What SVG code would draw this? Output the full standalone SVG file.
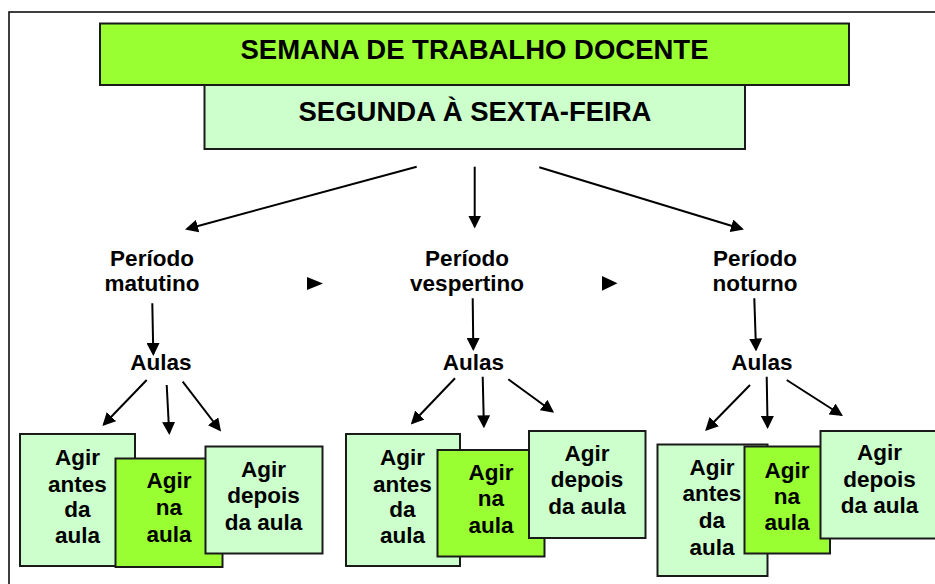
<svg xmlns="http://www.w3.org/2000/svg" width="935" height="584" viewBox="0 0 935 584">
<defs>
<style>
.frame{fill:none;stroke:#000;stroke-width:1.5}
.dark{fill:#99FF33;stroke:#1a1a1a;stroke-width:2}
.light{fill:#CCFFCC;stroke:#1a1a1a;stroke-width:2}
.t{font-family:"Liberation Sans",Arial,sans-serif;font-weight:bold;font-size:22.5px;fill:#000;text-anchor:middle}
.title{font-family:"Liberation Sans",Arial,sans-serif;font-weight:bold;font-size:27.5px;fill:#000;text-anchor:middle}
.c{stroke:#000;stroke-width:2;fill:none;marker-end:url(#ah)}
</style>
<marker id="ah" viewBox="0 0 13 13" refX="11" refY="6.5" markerWidth="13" markerHeight="13" orient="auto" markerUnits="userSpaceOnUse">
<path d="M0,0 L13,6.5 L0,13 z" fill="#000"/>
</marker>
</defs>
<rect width="935" height="584" fill="#fff"/>
<rect class="frame" x="9" y="12" width="940" height="600"/>

<g id="semana">
<rect class="dark" x="100" y="23.5" width="749" height="61.5"/>
<text class="title" x="474.5" y="59.3">SEMANA DE TRABALHO DOCENTE</text>
</g>
<g id="segunda">
<rect class="light" x="204.5" y="85" width="540.5" height="64"/>
<text class="title" x="475" y="121">SEGUNDA À SEXTA-FEIRA</text>
</g>

<g id="periodo-matutino">
<text class="t" x="152" y="266"><tspan x="152">Período</tspan><tspan x="152" y="290.5">matutino</tspan></text>
</g>
<g id="periodo-vespertino">
<text class="t" x="467" y="266"><tspan x="467">Período</tspan><tspan x="467" y="290.5">vespertino</tspan></text>
</g>
<g id="periodo-noturno">
<text class="t" x="755" y="266"><tspan x="755">Período</tspan><tspan x="755" y="290.5">noturno</tspan></text>
</g>

<g id="seq-arrows">
<polygon points="307,277 323,283.5 307,290" fill="#000"/>
<polygon points="602,276 617.5,283.3 602,290.7" fill="#000"/>
</g>

<g id="aulas-1"><text class="t" x="161" y="370">Aulas</text></g>
<g id="aulas-2"><text class="t" x="473.5" y="370">Aulas</text></g>
<g id="aulas-3"><text class="t" x="762" y="370">Aulas</text></g>

<g id="l-antes">
<rect class="light" x="20" y="434" width="115" height="132"/>
<text class="t"><tspan x="77.5" y="465">Agir</tspan><tspan x="77.5" y="491.5">antes</tspan><tspan x="77.5" y="517">da</tspan><tspan x="77.5" y="543">aula</tspan></text>
</g>
<g id="l-na">
<rect class="dark" x="115.5" y="458.5" width="107" height="108.5"/>
<text class="t"><tspan x="169" y="488">Agir</tspan><tspan x="169" y="515">na</tspan><tspan x="169" y="541.5">aula</tspan></text>
</g>
<g id="l-depois">
<rect class="light" x="205.5" y="446.5" width="117" height="107"/>
<text class="t"><tspan x="263.5" y="476.5">Agir</tspan><tspan x="263.5" y="503">depois</tspan><tspan x="263.5" y="530">da aula</tspan></text>
</g>

<g id="m-antes">
<rect class="light" x="346" y="434" width="114" height="132"/>
<text class="t"><tspan x="402.5" y="465">Agir</tspan><tspan x="402.5" y="491.5">antes</tspan><tspan x="402.5" y="517">da</tspan><tspan x="402.5" y="543">aula</tspan></text>
</g>
<g id="m-na">
<rect class="dark" x="437.5" y="450" width="107" height="106.5"/>
<text class="t"><tspan x="491" y="480">Agir</tspan><tspan x="491" y="506">na</tspan><tspan x="491" y="533">aula</tspan></text>
</g>
<g id="m-depois">
<rect class="light" x="529" y="431" width="116.5" height="107"/>
<text class="t"><tspan x="587" y="460.5">Agir</tspan><tspan x="587" y="487">depois</tspan><tspan x="587" y="514">da aula</tspan></text>
</g>

<g id="r-antes">
<rect class="light" x="657.5" y="444.5" width="110" height="131.5"/>
<text class="t"><tspan x="712" y="474.5">Agir</tspan><tspan x="712" y="501">antes</tspan><tspan x="712" y="527.5">da</tspan><tspan x="712" y="555">aula</tspan></text>
</g>
<g id="r-na">
<rect class="dark" x="744.5" y="446.5" width="85.5" height="107"/>
<text class="t"><tspan x="787" y="478">Agir</tspan><tspan x="787" y="503.5">na</tspan><tspan x="787" y="530">aula</tspan></text>
</g>
<g id="r-depois">
<rect class="light" x="820.5" y="431" width="118" height="107.5"/>
<text class="t"><tspan x="879.5" y="460">Agir</tspan><tspan x="879.5" y="486.5">depois</tspan><tspan x="879.5" y="513">da aula</tspan></text>
</g>

<g id="connectors">
<line class="c" x1="416.7" y1="166.7" x2="187" y2="229"/>
<line class="c" x1="474.7" y1="166.7" x2="474.7" y2="226.5"/>
<line class="c" x1="539.3" y1="167.3" x2="742" y2="229"/>

<line class="c" x1="152.3" y1="303.3" x2="153.3" y2="354"/>
<line class="c" x1="472.7" y1="298.3" x2="473.3" y2="349"/>
<line class="c" x1="754.3" y1="298.3" x2="756" y2="349.5"/>

<line class="c" x1="146.7" y1="380" x2="103.8" y2="424.5"/>
<line class="c" x1="166.7" y1="385" x2="169.2" y2="433"/>
<line class="c" x1="182.7" y1="381.7" x2="219.8" y2="430"/>

<line class="c" x1="455" y1="378.3" x2="412.2" y2="423"/>
<line class="c" x1="482.7" y1="376.7" x2="483.9" y2="426.3"/>
<line class="c" x1="508.3" y1="379.3" x2="552.5" y2="411.5"/>

<line class="c" x1="750" y1="385" x2="706.5" y2="429.5"/>
<line class="c" x1="766.7" y1="376.7" x2="767.6" y2="427"/>
<line class="c" x1="786.7" y1="380" x2="841.3" y2="415"/>
</g>
</svg>
